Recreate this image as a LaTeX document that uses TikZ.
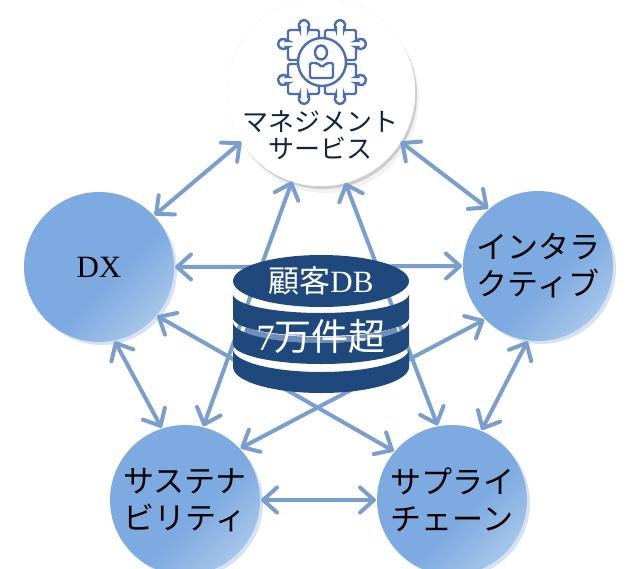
\documentclass[tikz,border=0pt]{standalone}
\usepackage{fontspec}
\setmainfont{Liberation Serif}
\newfontfamily\cjk{Noto Sans CJK JP}
\usetikzlibrary{arrows.meta,shadows}
\definecolor{linkc}{HTML}{7A9FCF}
\definecolor{dbc}{HTML}{1F497D}
\definecolor{gapc}{HTML}{6F8FB8}
\definecolor{iconc}{HTML}{4A6EB5}
\definecolor{circa}{HTML}{7DAAE0}
\definecolor{circb}{HTML}{B4CEEE}
\definecolor{ringc}{HTML}{D6E2F2}
\definecolor{navy}{HTML}{0F2447}
\pgfdeclarehorizontalshading{circshade}{100bp}{color(0bp)=(circa); color(56bp)=(circa); color(82bp)=(circb); color(100bp)=(circb)}
\tikzset{
  topic/.style={circle,minimum size=150pt,inner sep=0pt,outer sep=1pt,shading=circshade,shading angle=-45,
    general shadow={shadow xshift=3pt,shadow yshift=-3pt,fill=ringc},
    font=\cjk\fontsize{31}{37}\selectfont,align=center,text=black},
  link/.style={draw=linkc,line width=4pt,line cap=round,>={Straight Barb[length=14pt,width=25pt,round]},<->},
  band/.style={fill=dbc},
  piece/.style={draw=iconc,line width=2.4pt,rounded corners=1.5pt}
}
\newcommand{\dbband}[4]{\fill[band] (233,-#1) arc[start angle=180,end angle=360,x radius=88,y radius=#2] -- (409,-#3) arc[start angle=360,end angle=180,x radius=88,y radius=#4] -- cycle;}
\newcommand{\puzzlepiece}{\draw[piece] (-24,2) -- (-34,2) -- (-34,15) -- (-35,15) arc[start angle=-37,end angle=-323,radius=5] -- (-34,21) -- (-34,32) -- (-22,32) -- (-22,34) arc[start angle=217,end angle=-37,radius=5] -- (-14,32) -- (-3,32) -- (-3,25);}
\begin{document}
\begin{tikzpicture}[x=1pt,y=1pt]
\useasboundingbox (0,0) rectangle (631,-568);
\node[circle,minimum size=188pt,inner sep=0pt,outer sep=0pt,fill=white,draw=black!3,line width=0.5pt,
  general shadow={shadow xshift=4pt,shadow yshift=-7pt,fill=black!5},
  general shadow={shadow xshift=2pt,shadow yshift=-3pt,fill=black!20}] (mgmt) at (321,-92) {};
\node[text=navy,font=\cjk\fontsize{26}{26.5}\selectfont,align=center] (mgmtlabel) at (320,-135) {マネジメント\\サービス};
\begin{scope}[shift={(322,-62)}]
  \puzzlepiece
  \begin{scope}[xscale=-1]\puzzlepiece\end{scope}
  \begin{scope}[yscale=-1]\puzzlepiece\end{scope}
  \begin{scope}[xscale=-1,yscale=-1]\puzzlepiece\end{scope}
  \draw[iconc,line width=2.4pt] (0,0) circle (24);
  \draw[iconc,line width=2.4pt] (-1,9.5) ellipse[x radius=6,y radius=7];
  \draw[piece] (-12,-1) -- (-5,-1) -- (0,-5) -- (5,-1) -- (11,-1) -- (11,-16) -- (-12,-16) -- cycle;
\end{scope}
\node[topic,font=\fontsize{31}{37}\selectfont] (dx) at (99,-267) {DX};
\node[topic] (inter) at (538,-266) {インタラ\\クティブ};
\node[topic] (sust) at (185,-500) {サステナ\\ビリティ};
\node[topic] (supply) at (452,-500) {サプライ\\チェーン};
\draw[link] (mgmt.212.8) -- (dx.43.5);
\draw[link] (mgmt.328.1) -- (inter.131.4);
\draw[link] (dx.282.7) -- (sust.108.7);
\draw[link] (inter.262.1) -- (supply.67.6);
\draw[link] (sust.0) -- (supply.180);
\draw[link] (mgmt.252.7) -- (sust.76.1);
\draw[link] (mgmt.285.5) -- (supply.101.5);
\draw[link] (dx.0) -- (inter.180);
\draw[link] (dx.320.7) -- (supply.140);
\draw[link] (inter.225) -- (sust.43.9);
\draw[line width=6pt,color=gapc] (321,-320) ++(210:88 and 20) arc[start angle=210,end angle=330,x radius=88,y radius=20];
\fill[band] (321,-281) ellipse[x radius=88,y radius=26];
\dbband{294}{19}{318}{18}
\dbband{322}{21}{344}{20}
\dbband{349}{23}{367}{26}
\node[text=white,font=\fontsize{31}{33}\selectfont,inner sep=0pt] (dbtop) at (321,-281) {{\cjk 顧客}DB};
\node[text=white,font=\fontsize{37}{39}\selectfont,inner sep=0pt] (dbmid) at (321,-336) {7{\cjk 万件超}};
\end{tikzpicture}
\end{document}
